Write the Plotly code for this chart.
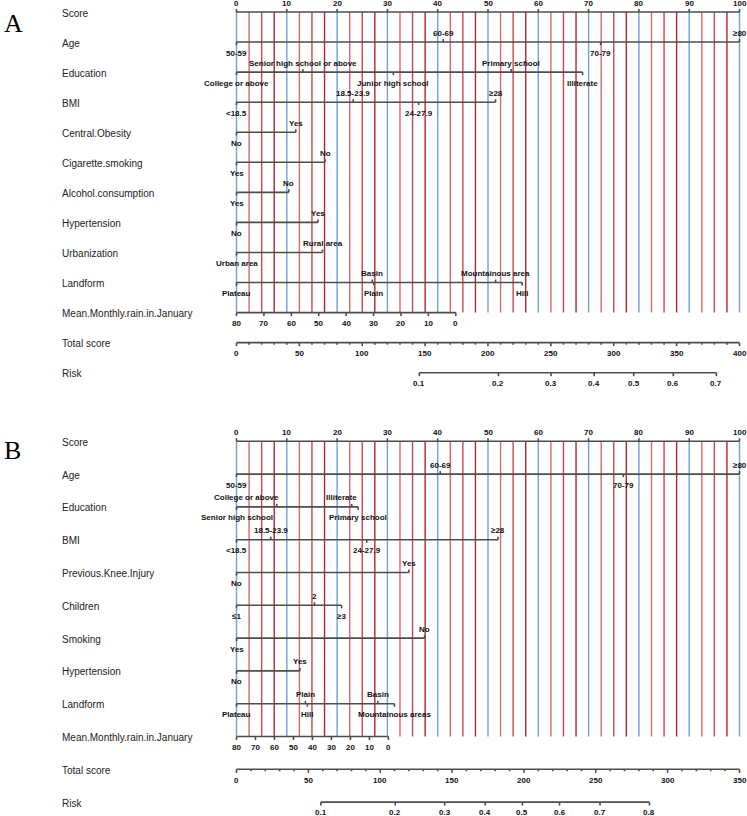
import math
import plotly.graph_objects as go

# ======================= DATA =======================
# ---- Panel A ----
A_score_ticks = [0, 10, 20, 30, 40, 50, 60, 70, 80, 90, 100]
A_age_levels = ["50-59", "60-69", "70-79", "≥80"]
A_age_points = [0, 41.1, 72.4, 100]
A_edu_levels = ["College or above", "Senior high school or above", "Junior high school", "Primary school", "Illiterate"]
A_edu_points = [0, 13.2, 31.2, 54.6, 68.8]
A_bmi_levels = ["<18.5", "18.5-23.9", "24-27.9", "≥28"]
A_bmi_points = [0, 23.2, 36.2, 51.5]
A_obesity_levels = ["No", "Yes"]
A_obesity_points = [0, 11.8]
A_cig_levels = ["Yes", "No"]
A_cig_points = [0, 17.6]
A_alcohol_levels = ["Yes", "No"]
A_alcohol_points = [0, 10.4]
A_hyper_levels = ["No", "Yes"]
A_hyper_points = [0, 16.2]
A_urban_levels = ["Urban area", "Rural area"]
A_urban_points = [0, 17.1]
A_land_levels = ["Plateau", "Basin", "Plain", "Mountainous area", "Hill"]
A_land_points = [0, 27.0, 27.3, 51.5, 56.8]
A_rain_ticks = [80, 70, 60, 50, 40, 30, 20, 10, 0]
A_rain_points_at_0 = 43.6
A_total_ticks = [0, 50, 100, 150, 200, 250, 300, 350, 400]
A_total_max = 400
A_risk_ticks = [0.1, 0.2, 0.3, 0.4, 0.5, 0.6, 0.7]
A_risk_intercept = 315.9
A_risk_slope = 77.6

# ---- Panel B ----
B_score_ticks = [0, 10, 20, 30, 40, 50, 60, 70, 80, 90, 100]
B_age_levels = ["50-59", "60-69", "70-79", "≥80"]
B_age_points = [0, 40.5, 76.9, 100]
B_edu_levels = ["Senior high school", "College or above", "Primary school", "Illiterate"]
B_edu_points = [0, 8.0, 24.2, 22.9]
B_bmi_levels = ["<18.5", "18.5-23.9", "24-27.9", "≥28"]
B_bmi_points = [0, 6.8, 25.9, 52.0]
B_knee_levels = ["No", "Yes"]
B_knee_points = [0, 34.3]
B_children_levels = ["≤1", "2", "≥3"]
B_children_points = [0, 15.5, 20.9]
B_smoking_levels = ["Yes", "No"]
B_smoking_points = [0, 37.4]
B_hyper_levels = ["No", "Yes"]
B_hyper_points = [0, 12.6]
B_land_levels = ["Plateau", "Plain", "Hill", "Basin", "Mountainous areas"]
B_land_points = [0, 13.7, 14.1, 28.1, 31.4]
B_rain_ticks = [80, 70, 60, 50, 40, 30, 20, 10, 0]
B_rain_points_at_0 = 30.2
B_total_ticks = [0, 50, 100, 150, 200, 250, 300, 350]
B_total_max = 350
B_risk_ticks = [0.1, 0.2, 0.3, 0.4, 0.5, 0.6, 0.7, 0.8]
B_risk_intercept = 198.9
B_risk_slope = 63.8

# ======================= LAYOUT / STYLE =======================
W, H = 747, 816
X0, PXPT = 236.5, 5.03          # pixel of score 0, pixels per score point
AXIS_COLOR = "#4d4d4d"
TEXT_COLOR = "#111111"
LBL_FONT = dict(family="Liberation Sans, Arial, sans-serif", size=10, color="#222222")
TICK_FONT = dict(family="Liberation Sans, Arial, sans-serif", size=8, color=TEXT_COLOR)
BLUE = "#6fa2d4"
REDS = ["#d8686c", "#c8474b", "#b3262b"]

# label nudges (score units) where labels are not centered on their tick
NUDGE = {("B", "Education", "College or above"): -6.0,
         ("B", "Education", "Illiterate"): -2.0}


def px2score(px):
    return (px - X0) / PXPT


fig = go.Figure()
annotations = []
lines_x, lines_y = [], []


def seg(x0, y0, x1, y1):
    lines_x.extend([x0, x1, None])
    lines_y.extend([y0, y1, None])


def text(x, y, s, font=TICK_FONT, xanchor="center", bold=True):
    annotations.append(dict(x=x, y=y, xref="x", yref="y",
                            text=f"<b>{s}</b>" if bold else s, showarrow=False,
                            font=font, xanchor=xanchor, yanchor="middle"))


def logit(p):
    return math.log(p / (1 - p))


def panel(tag, letter, letter_y, y_top, dy, score_ticks, variables, rain_ticks, rain_pts0,
          total_ticks, total_max, risk_ticks, risk_b0, risk_b1):
    n_rows = len(variables) + 4
    rows_y = [y_top + dy * i for i in range(n_rows)]
    names = ["Score"] + [v[0] for v in variables] + ["Mean.Monthly.rain.in.January", "Total score", "Risk"]
    rain_y = rows_y[len(variables) + 1]
    # vertical guide lines
    groups = {}
    for k in range(41):
        xv = 2.5 * k
        col = BLUE if k % 4 == 0 else REDS[(k % 4) - 1]
        groups.setdefault(col, ([], []))
        groups[col][0].extend([xv, xv, None])
        groups[col][1].extend([rows_y[0], rain_y, None])
    for col, (gx, gy) in groups.items():
        fig.add_trace(go.Scatter(x=gx, y=gy, mode="lines", line=dict(color=col, width=1.4),
                                 hoverinfo="skip", showlegend=False))
    # row names
    for nm, yy in zip(names, rows_y):
        text(px2score(60), yy + 1, nm, font=LBL_FONT, xanchor="left", bold=False)
    text(px2score(2), letter_y, letter, xanchor="left", bold=False,
         font=dict(family="Liberation Serif, Times New Roman, serif", size=26, color="#000"))
    # score axis
    y = rows_y[0]
    seg(min(score_ticks), y, max(score_ticks), y)
    for t in score_ticks:
        seg(t, y, t, y - 3)
        text(t, y - 9, str(t))
    # variables
    for i, (name, levels, pts) in enumerate(variables):
        y = rows_y[i + 1]
        seg(min(pts), y, max(pts), y)
        for j, (lv, p) in enumerate(zip(levels, pts)):
            up = (j % 2 == 1)
            seg(p, y, p, y - 3 if up else y + 3)
            xl = p + NUDGE.get((tag, name, lv), 0)
            text(xl, y - 9 if up else y + 11, lv)
    # rain axis (80 -> 0 maps linearly to 0 -> rain_pts0 points)
    y = rain_y

    def rain_x(v):
        return (max(rain_ticks) - v) / max(rain_ticks) * rain_pts0
    seg(rain_x(max(rain_ticks)), y, rain_x(0), y)
    for v in rain_ticks:
        seg(rain_x(v), y, rain_x(v), y + 3.5)
        text(rain_x(v), y + 10.5, str(v))
    # total score axis
    y = rows_y[-2]
    sc = 100 / total_max
    seg(0, y, total_max * sc, y)
    for v in range(0, total_max + 1, 10):
        major = v in total_ticks
        seg(v * sc, y, v * sc, y + (3.5 if major else 2))
    for v in total_ticks:
        text(v * sc, y + 11, str(v))
    # risk axis
    y = rows_y[-1]
    rx = [(risk_b0 + risk_b1 * logit(p)) * sc for p in risk_ticks]
    seg(rx[0], y, rx[-1], y)
    for p, xx in zip(risk_ticks, rx):
        seg(xx, y, xx, y + 3.5)
        text(xx, y + 10.5, f"{p:.1f}")


panel("A", "A", 23, 12.0, 30.06, A_score_ticks, [
    ("Age", A_age_levels, A_age_points),
    ("Education", A_edu_levels, A_edu_points),
    ("BMI", A_bmi_levels, A_bmi_points),
    ("Central.Obesity", A_obesity_levels, A_obesity_points),
    ("Cigarette.smoking", A_cig_levels, A_cig_points),
    ("Alcohol.consumption", A_alcohol_levels, A_alcohol_points),
    ("Hypertension", A_hyper_levels, A_hyper_points),
    ("Urbanization", A_urban_levels, A_urban_points),
    ("Landform", A_land_levels, A_land_points),
], A_rain_ticks, A_rain_points_at_0, A_total_ticks, A_total_max, A_risk_ticks,
    A_risk_intercept, A_risk_slope)

panel("B", "B", 450, 441.3, 32.8, B_score_ticks, [
    ("Age", B_age_levels, B_age_points),
    ("Education", B_edu_levels, B_edu_points),
    ("BMI", B_bmi_levels, B_bmi_points),
    ("Previous.Knee.Injury", B_knee_levels, B_knee_points),
    ("Children", B_children_levels, B_children_points),
    ("Smoking", B_smoking_levels, B_smoking_points),
    ("Hypertension", B_hyper_levels, B_hyper_points),
    ("Landform", B_land_levels, B_land_points),
], B_rain_ticks, B_rain_points_at_0, B_total_ticks, B_total_max, B_risk_ticks,
    B_risk_intercept, B_risk_slope)

fig.add_trace(go.Scatter(x=lines_x, y=lines_y, mode="lines",
                         line=dict(color=AXIS_COLOR, width=1.6),
                         hoverinfo="skip", showlegend=False))

fig.update_layout(
    width=W, height=H, margin=dict(l=0, r=0, t=0, b=0),
    paper_bgcolor="white", plot_bgcolor="white",
    xaxis=dict(range=[px2score(0), px2score(W)], visible=False, fixedrange=True),
    yaxis=dict(range=[H, 0], visible=False, fixedrange=True),
    annotations=annotations, showlegend=False, hovermode=False,
)

fig.write_html("out.html", config={"displayModeBar": False, "staticPlot": True},
               post_script="document.body.style.margin='0px';document.body.style.overflow='hidden';")
